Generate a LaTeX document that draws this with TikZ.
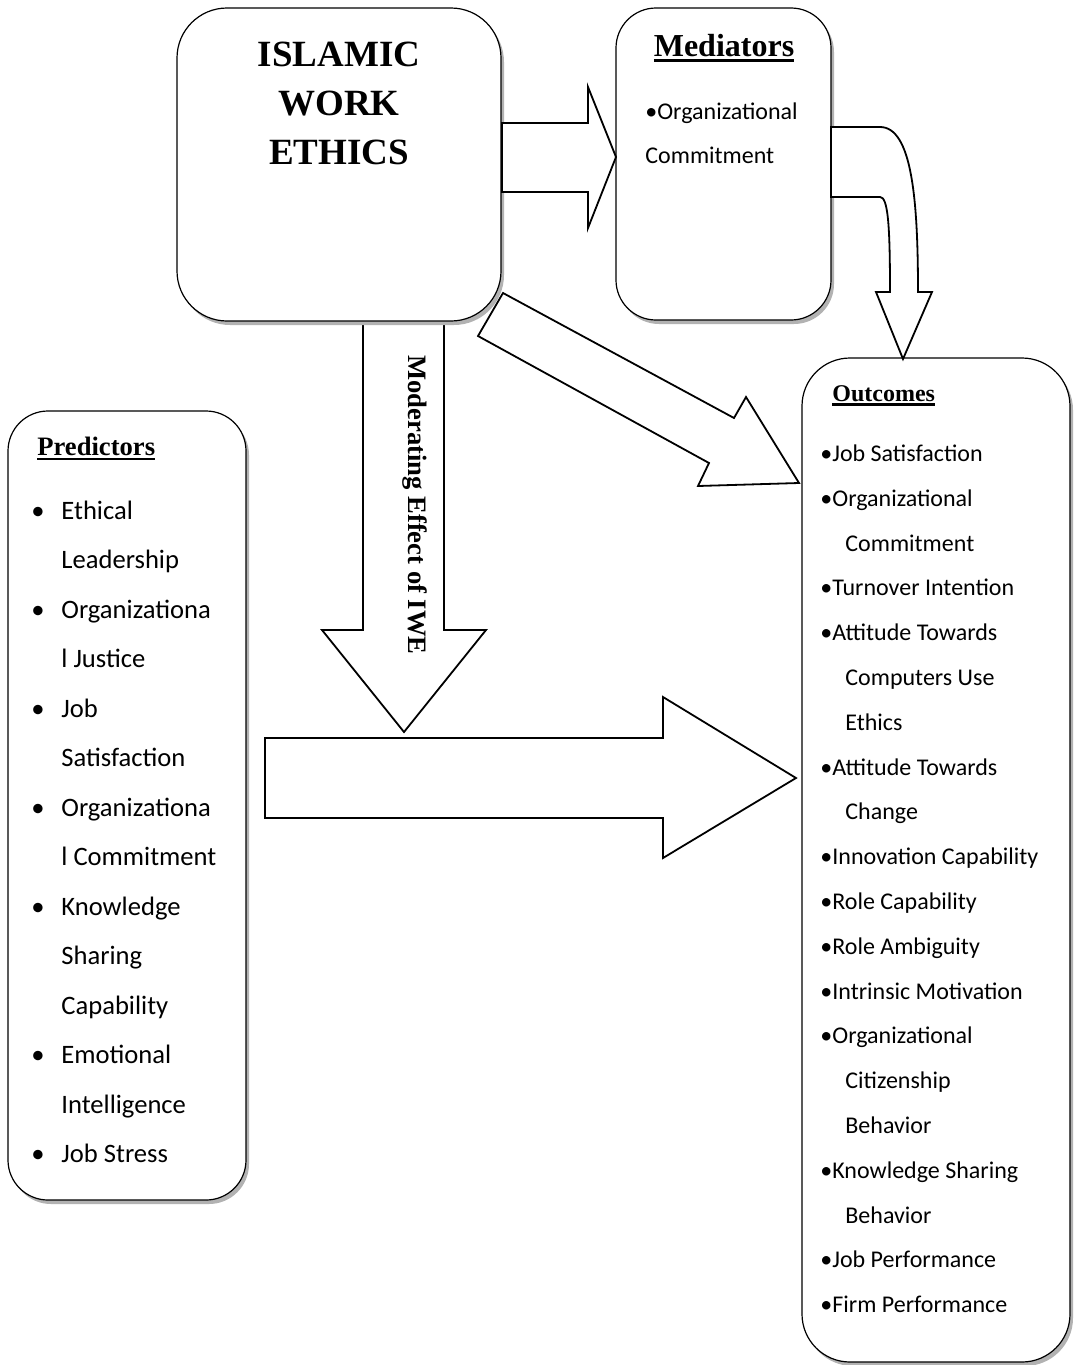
\documentclass[tikz,border=0pt]{standalone}
\usepackage{fontspec}
\setmainfont{Liberation Serif}
\newfontfamily\calibri{Carlito}
\usetikzlibrary{shadows}
\newcommand\thickul[1]{\setbox0\hbox{#1}\rlap{\rule[-0.19em]{\wd0}{0.09em}}\box0}
\tikzset{panel/.style={rectangle,rounded corners=#1,draw=black,line width=0.6pt,fill=white,
           drop shadow={shadow xshift=1.5pt,shadow yshift=-2pt,fill=black!30,opacity=1}},
         blockarrow/.style={draw=black,line width=0.9pt,fill=white,line join=miter},
         heading/.style={inner sep=0pt,font=\bfseries\fontsize{#1}{#1}\selectfont},
         item/.style={anchor=base west,inner sep=0pt,font=\calibri\fontsize{12}{14}\selectfont},
         preditem/.style={anchor=base west,inner sep=0pt,font=\calibri\fontsize{13.3}{16}\selectfont},
}

\begin{document}
\begin{tikzpicture}[x=0.5pt,y=-0.5pt]
\useasboundingbox (0,0) rectangle (1077,1365);
% block arrows under the boxes
\draw[blockarrow] (363,323) -- (444,323) -- (444,630) -- (486,630) -- (404,732) -- (322,630) -- (363,630) -- cycle;
\draw[blockarrow] (265,738) -- (663,738) -- (663,697) -- (796,778) -- (663,858) -- (663,818) -- (265,818) -- cycle;
\draw[blockarrow] (503,293) -- (734,418) -- (746,397) -- (799,483) -- (698,486) -- (709,463) -- (478,336) -- cycle;
\node[rotate=-90,anchor=base,heading=13.3] (modlabel) at (408,505) {Moderating Effect of IWE};

% boxes
\node[panel=25pt,minimum width=162pt,minimum height=156.5pt] (iwe) at (339,164.5) {};
\node[panel=20pt,minimum width=107.5pt,minimum height=156pt] (med) at (723.5,164) {};
\node[panel=24pt,minimum width=134pt,minimum height=502pt] (out) at (936,860) {};
\node[panel=20pt,minimum width=119pt,minimum height=394.5pt] (pred) at (127,805.5) {};

% block arrows over the shadows
\draw[blockarrow] (502,123) -- (588,123) -- (588,87) -- (616,157) -- (588,228) -- (588,192) -- (502,192) -- cycle;
\draw[blockarrow] (831,127) -- (880,127) .. controls (912,127) and (918,200) .. (918,292) -- (932,292) -- (903,359)
   -- (876,292) -- (890,292) .. controls (890,225) and (888,197) .. (880,197) -- (831,197) -- cycle;

% IWE
\foreach \w [count=\i] in {ISLAMIC,WORK,ETHICS}
  \node[anchor=base,heading=18.5] (iwe\i) at (339,{66+49*(\i-1)}) {\w};

% mediators
\node[anchor=base,heading=16] (medtitle) at (724,56) {\thickul{Mediators}};
\node[item] (med1) at (645,119) {\textbullet Organizational};
\node[item] (med2) at (645,163) {Commitment};

% outcomes
\node[anchor=base west,heading=12] (outtitle) at (832,401) {\thickul{Outcomes}};
\foreach \x/\t [count=\i] in {820/\textbullet Job Satisfaction,820/\textbullet Organizational,845/Commitment,
    820/\textbullet Turnover Intention,820/\textbullet Attitude Towards,845/Computers Use,845/Ethics,
    820/\textbullet Attitude Towards,845/Change,820/\textbullet Innovation Capability,820/\textbullet Role Capability,
    820/\textbullet Role Ambiguity,820/\textbullet Intrinsic Motivation,820/\textbullet Organizational,
    845/Citizenship,845/Behavior,820/\textbullet Knowledge Sharing,845/Behavior,
    820/\textbullet Job Performance,820/\textbullet Firm Performance}
  \node[item] (out\i) at (\x,{461.5+44.8*(\i-1)}) {\t};

% predictors
\node[anchor=base west,heading=13.3] (predtitle) at (37,455) {\thickul{Predictors}};
\foreach \t [count=\i] in {Ethical,Leadership,Organizationa,l Justice,Job,Satisfaction,Organizationa,
    l Commitment,Knowledge,Sharing,Capability,Emotional,Intelligence,Job Stress}
  \node[preditem] (pred\i) at (61,{519+49.5*(\i-1)}) {\t};
\foreach \i in {1,3,5,7,9,12,14}
  \node[preditem] (bul\i) at (31,{519+49.5*(\i-1)}) {\textbullet};
\end{tikzpicture}
\end{document}
